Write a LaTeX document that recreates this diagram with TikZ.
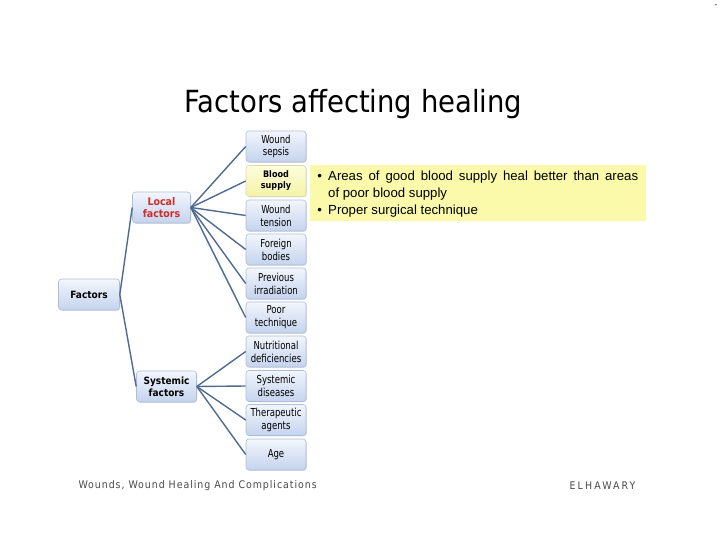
\documentclass[tikz,border=0pt]{standalone}
\usepackage{fontspec}
\setmainfont{DejaVu Sans Condensed}
\newfontfamily\boxfont{DejaVu Sans Condensed}[FakeStretch=0.86]
\newfontfamily\titlefont{DejaVu Sans Condensed}
\newfontfamily\arialfont{Liberation Sans}
\newfontfamily\footfont{DejaVu Sans Condensed}[LetterSpace=9]
\newfontfamily\footrfont{DejaVu Sans Condensed}[LetterSpace=20]
\usetikzlibrary{shadows}
\definecolor{linkcol}{HTML}{4F6B94}
\definecolor{boxtop}{HTML}{F2F6FC}
\definecolor{boxbot}{HTML}{C4D3EE}
\definecolor{boxline}{HTML}{AEBDD8}
\definecolor{ytop}{HTML}{FDFDDC}
\definecolor{ybot}{HTML}{F4F3A6}
\definecolor{callout}{HTML}{FAFAAA}
\definecolor{localred}{HTML}{D42A2A}
\definecolor{footgray}{HTML}{4A4A4A}
\tikzset{
  box/.style={rectangle, rounded corners=3pt, draw=boxline, line width=0.6pt,
    top color=boxtop, bottom color=boxbot, minimum width=60pt, minimum height=31pt,
    align=center, inner sep=1pt, font=\boxfont\fontsize{11}{12.8}\selectfont,
    drop shadow={shadow xshift=0.8pt, shadow yshift=-0.8pt, opacity=0.25}},
  ybox/.style={box, top color=ytop, bottom color=ybot, draw=ybot!80!black!60},
  link/.style={draw=linkcol, line width=1.4pt},
}
\begin{document}
\begin{tikzpicture}[x=1pt,y=-1pt]
\useasboundingbox (0,0) rectangle (720,540);
\fill[white] (0,0) rectangle (720,540);

\node (title) at (353.5,104) {\titlefont\fontsize{30.5}{33}\selectfont Factors affecting healing};
\node (dash) at (716,6) {\fontsize{8}{8}\selectfont -};

% level 1
\node[box, minimum width=61pt, font=\bfseries\fontsize{10}{12}\selectfont] (factors) at (89,294.5) {Factors};
% level 2
\node[box, minimum width=58pt, font=\bfseries\fontsize{10.5}{12.5}\selectfont\color{localred}] (local) at (161.5,207.5) {Local\\factors};
\node[box, minimum width=60pt, font=\bfseries\fontsize{10}{12}\selectfont] (systemic) at (166.5,386.5) {Systemic\\factors};
% level 3
\node[box] (sepsis) at (276,146.5) {Wound\\sepsis};
\node[ybox, font=\bfseries\fontsize{9}{11}\selectfont] (blood) at (276,181) {Blood\\supply};
\node[box] (tension) at (276,215.5) {Wound\\tension};
\node[box] (foreign) at (276,249.5) {Foreign\\bodies};
\node[box] (irrad) at (276,283.5) {Previous\\irradiation};
\node[box] (poor) at (276,317.5) {Poor\\technique};
\node[box] (nutri) at (276,351.5) {Nutritional\\deficiencies};
\node[box] (sysdis) at (276,386) {Systemic\\diseases};
\node[box] (thera) at (276,420) {Therapeutic\\agents};
\node[box] (age) at (276,454.5) {Age};

% connectors
\draw[link] (factors.east) -- (local.west);
\draw[link] (factors.east) -- (systemic.west);
\foreach \n in {sepsis,blood,tension,foreign,irrad,poor}
  \draw[link] (local.east) -- (\n.west);
\foreach \n in {nutri,sysdis,thera,age}
  \draw[link] (systemic.east) -- (\n.west);

% callout
\node[fill=callout, minimum width=336pt, minimum height=56pt, inner sep=0pt] (note) at (477.5,193) {};
\node[anchor=north west, inner sep=0pt, font=\arialfont\fontsize{13.2}{16.5}\selectfont] (notetext) at (315,171)
 {\parbox{323pt}{%
  \hangindent=13pt\hangafter=1\noindent\makebox[13pt][l]{\,\textbullet}Areas of good blood supply heal better than areas\linebreak of poor blood supply\par
  \vspace{1pt}\hangindent=13pt\hangafter=1\noindent\makebox[13pt][l]{\,\textbullet}Proper surgical technique}};

% footer
\node[anchor=west, text=footgray, font=\footfont\fontsize{10.5}{12}\selectfont] (footl) at (75,486) {Wounds, Wound Healing And Complications};
\node[anchor=east, text=footgray, font=\footrfont\fontsize{10.5}{12}\selectfont] (footr) at (639,486) {ELHAWARY};
\end{tikzpicture}
\end{document}
